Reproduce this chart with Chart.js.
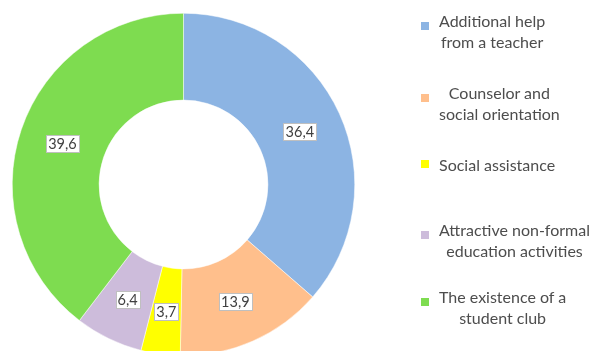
<!DOCTYPE html>
<html>
<head>
<meta charset="utf-8">
<script src="https://cdn.jsdelivr.net/npm/chart.js@4/dist/chart.umd.min.js"></script>
<style>
  html, body { margin: 0; padding: 0; width: 599px; height: 351px; overflow: hidden; background: #fff; }
  #wrap { position: absolute; left: 12px; top: 13px; width: 343px; height: 343px; }
  #legend { position: absolute; left: 0; top: 0; width: 599px; height: 351px; pointer-events: none;
            font-family: Lato, "Open Sans", sans-serif; font-size: 16px; color: #4d4d4d; }
  .item { position: absolute; left: 421px; display: flex; align-items: center; }
  .mark { width: 8px; height: 8px; margin-right: 10px; flex: none; }
  .txt { display: inline-block; text-align: center; line-height: 21px; white-space: nowrap; }
</style>
</head>
<body>
<div id="wrap"><canvas id="c"></canvas></div>
<div id="legend"></div>
<script>
// Share of answers (%) per kind of support
const categories = [
  ["Additional help", "from a teacher"],
  ["Counselor and", "social orientation"],
  ["Social assistance"],
  ["Attractive non-formal", "education activities"],
  ["The existence of a", "student club"]
];
const values = [36.4, 13.9, 3.7, 6.4, 39.6];
const colors = ["#8CB4E3", "#FFBF8C", "#FFFF00", "#CDBCDB", "#7EDC50"];

const fmt = v => v.toFixed(1).replace('.', ',');

// value boxes drawn in the middle of each ring segment
const valueBoxes = {
  id: 'valueBoxes',
  afterDatasetsDraw(chart) {
    const ctx = chart.ctx;
    const meta = chart.getDatasetMeta(0);
    ctx.save();
    ctx.font = '14.5px Lato, "Open Sans", sans-serif';
    ctx.textAlign = 'center';
    ctx.textBaseline = 'middle';
    meta.data.forEach((arc, i) => {
      const p = arc.tooltipPosition();
      const s = fmt(values[i]);
      const w = Math.round(ctx.measureText(s).width) + 4;
      const h = 17;
      const x = Math.round(p.x - w / 2) + 0.5, y = Math.round(p.y - h / 2) + 0.5;
      ctx.fillStyle = '#ffffff';
      ctx.fillRect(x, y, w, h);
      ctx.strokeStyle = '#BFBFBF';
      ctx.lineWidth = 1;
      ctx.strokeRect(x, y, w, h);
      ctx.fillStyle = '#404040';
      ctx.fillText(s, p.x, p.y + 1);
    });
    ctx.restore();
  }
};

new Chart(document.getElementById('c'), {
  type: 'doughnut',
  data: {
    labels: categories.map(l => l.join(' ')),
    datasets: [{
      data: values,
      backgroundColor: colors,
      borderColor: '#ffffff',
      borderWidth: 0.5
    }]
  },
  options: {
    responsive: true,
    maintainAspectRatio: false,
    animation: false,
    cutout: '49.3%',
    layout: { padding: 0 },
    plugins: { legend: { display: false }, tooltip: { enabled: false } }
  },
  plugins: [valueBoxes]
});

// legend on the right, one entry per category
const legend = document.getElementById('legend');
categories.forEach((lines, i) => {
  const item = document.createElement('div');
  item.className = 'item';
  const mark = document.createElement('span');
  mark.className = 'mark';
  mark.style.background = colors[i];
  const txt = document.createElement('span');
  txt.className = 'txt';
  txt.innerHTML = lines.join('<br>');
  item.appendChild(mark);
  item.appendChild(txt);
  legend.appendChild(item);
  const blockH = lines.length * 21;
  const centerY = [31, 102.5, 164, 240, 307][i];
  item.style.top = (centerY - blockH / 2) + 'px';
  if (lines.length > 1) mark.style.marginBottom = '10px';
});
</script>
</body>
</html>
